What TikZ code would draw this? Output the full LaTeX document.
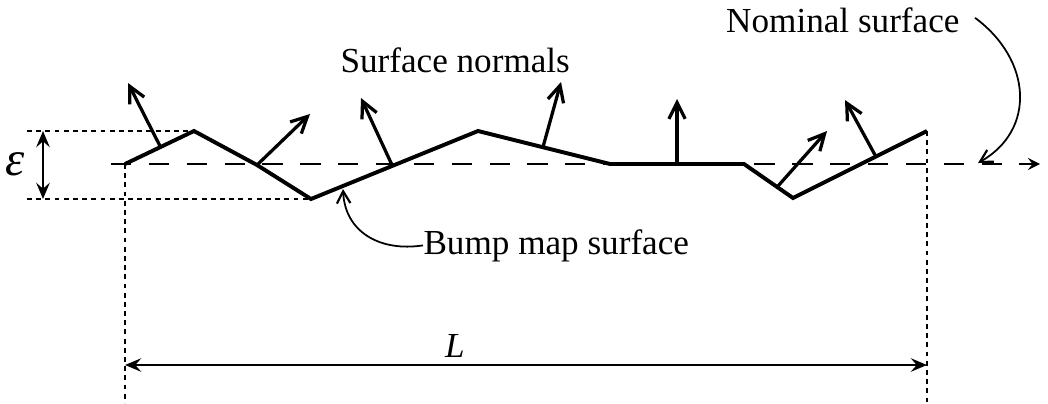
\documentclass[tikz,border=0pt]{standalone}
\usepackage{fontspec}
\setmainfont{Liberation Serif}
\usetikzlibrary{arrows.meta,positioning,calc}

\begin{document}
\begin{tikzpicture}[x=0.013cm, y=-0.013cm,
  surf/.style={line width=1.45pt, line join=miter},
  normal/.style={line width=1.2pt, -{Straight Barb[length=6pt,width=6pt,line width=1.2pt]}},
  nominal/.style={line width=0.75pt, dash pattern=on 7.5pt off 6.5pt, -{Stealth[length=4.5pt,width=4.5pt,inset=1.7pt]}},
  guide/.style={line width=0.7pt, dash pattern=on 1.8pt off 1.6pt},
  dim/.style={line width=0.8pt, {Stealth[length=6pt,width=5pt,inset=2.2pt]}-{Stealth[length=6pt,width=5pt,inset=2.2pt]}},
  callout/.style={line width=0.65pt, -{Straight Barb[length=4.5pt,width=5pt,line width=0.8pt]}},
  lbl/.style={inner sep=0pt, font=\fontsize{13}{15}\selectfont}]
  \useasboundingbox (0,0) rectangle (1048,403);

  % bump map surface
  \coordinate (s0) at (125,164);
  \coordinate (s1) at (194,131);
  \coordinate (s2) at (257,165);
  \coordinate (s3) at (311,199);
  \coordinate (s4) at (478,131);
  \coordinate (s5) at (610,164);
  \coordinate (s6) at (744,164);
  \coordinate (s7) at (793,198);
  \coordinate (s8) at (927,131);

  % nominal surface
  \coordinate (nomA) at (111,164);
  \coordinate (nomB) at (1040,164);
  \draw[nominal] (nomA) -- (nomB);

  \draw[surf] (s0) -- (s1) -- (s2) -- (s3) -- (s4) -- (s5) -- (s6) -- (s7) -- (s8);

  % normals
  \coordinate (b1) at (161,148); \coordinate (t1) at (128,83);
  \coordinate (b2) at (257,165); \coordinate (t2) at (310,114);
  \coordinate (b3) at (392,165); \coordinate (t3) at (361,98);
  \coordinate (b4) at (543,147); \coordinate (t4) at (561,82);
  \coordinate (b5) at (677,164); \coordinate (t5) at (677,99);
  \coordinate (b6) at (778,186); \coordinate (t6) at (827,131);
  \coordinate (b7) at (875,155); \coordinate (t7) at (845,100);
  \foreach \i in {1,...,7}
    \draw[normal] (b\i) -- (t\i);

  % epsilon
  \coordinate (epsTop) at (27,131);
  \coordinate (epsBot) at (27,199);
  \draw[guide] (epsTop) -- (s1);
  \draw[guide] (epsBot) -- (s3);
  \coordinate (epsA) at (43,131);
  \coordinate (epsB) at (43,199);
  \draw[dim] (epsA) -- (epsB);
  \node[inner sep=0pt, font=\fontsize{18}{20}\selectfont\itshape] (eps) at (15,164) {ε};

  % length L
  \coordinate (endL) at (125,403);
  \coordinate (endR) at (927,403);
  \draw[guide] (s0) -- (endL);
  \draw[guide] (s8) -- (endR);
  \coordinate (Lleft) at (125,365);
  \coordinate (Lright) at (927,365);
  \draw[dim] (Lleft) -- (Lright);
  \node[lbl, anchor=base, font=\fontsize{13}{15}\selectfont\itshape] (lenL) at (455,357) {L};

  % labels
  \node[lbl, anchor=base west] (normals) at (340,72) {Surface normals};
  \node[lbl, anchor=base east] (nomlbl) at (960,32) {Nominal surface};
  \node[lbl, anchor=base west] (bumplbl) at (423,254) {Bump map surface};

  \coordinate (nomHit) at (978,163);
  \draw[callout] (nomlbl.east) ++(15,-2) coordinate (nomStart)
    (nomStart) .. controls (1032,60) and (1036,130) .. (nomHit);
  \coordinate (bumpHit) at (343,189);
  \draw[callout] (bumplbl.west) .. controls (380,252) and (345,232) .. (bumpHit);
\end{tikzpicture}
\end{document}
